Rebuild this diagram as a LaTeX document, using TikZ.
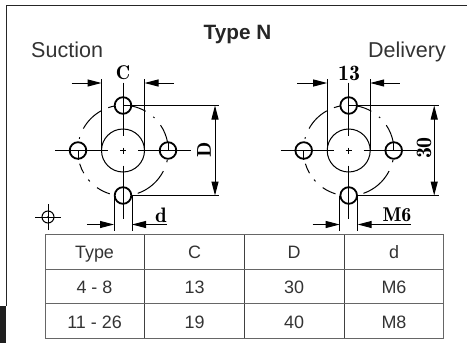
\documentclass[tikz,border=0pt]{standalone}
\usepackage{fontspec}
\newfontfamily\lib{Liberation Sans}
\usetikzlibrary{arrows.meta}
\tikzset{
  lbl/.style={font=\lib\fontsize{#1}{#1}\selectfont,text=black!80,inner sep=0pt,anchor=base},
  dimtxt/.style={font=\fontsize{#1}{#1}\fontseries{b}\selectfont,inner sep=0pt},
  thin line/.style={line width=1bp,black},
  hole/.style={line width=1.8bp,black},
  dimarrow/.style={line width=1bp,black,-{Triangle[length=14bp,width=7bp]}},
  dimboth/.style={line width=1bp,black,{Triangle[length=14bp,width=7bp]}-{Triangle[length=14bp,width=7bp]}},
  cell/.style={draw=black!60,line width=1bp},
  divide/.style={draw=black!75,line width=1bp}
}
% #1 prefix, #2 centre x, #3 D dim x, #4 D line end, #5 d line end
\newcommand{\flange}[5]{
\begin{scope}[shift={(#2,192.5)}]
  \draw[thin line] (0,0) circle[radius=21.5];
  \foreach \a/\b in {79/60,48/46,34/11,-12/-15,-27/-71,-107/-125,-137/-140,-150/-163,165/163,151/119,109/100}
    \draw[thin line] (\a:45.3) arc[start angle=\a,end angle=\b,radius=45.3];
  \foreach \p in {(0,45),(0,-45),(-45,0),(45,0)}
    \draw[hole] \p circle[radius=8.3];
  \draw[thin line] (0,68)--(0,15) (0,3)--(0,-3) (0,-15)--(0,-68);
  \draw[thin line] (-68,0)--(-15,0) (-3,0)--(3,0) (15,0)--(68,0);
  \draw[thin line] (-45,0)--(-45,-9) (45,0)--(45,9);
  \draw[thin line] (-21.5,0)--(-21.5,72) (21.5,0)--(21.5,72);
  \draw[thin line] (0,45)--(#4,45) (9,-45)--(#4,-45);
  \draw[thin line] (-9,-45)--(-9,-80) (9,-45)--(9,-80);
  \coordinate (#1cl) at (-51.5,67.5); \coordinate (#1cr) at (51,67.5);
  \coordinate (#1ca) at (-21.5,67.5); \coordinate (#1cb) at (21.5,67.5);
  \coordinate (#1da) at (#3,45); \coordinate (#1db) at (#3,-45);
  \coordinate (#1la) at (-36.2,-74); \coordinate (#1lb) at (#5,-74);
  \coordinate (#1lc) at (-9,-74); \coordinate (#1ld) at (9,-74);
  \draw[dimarrow] (#1cl)--(#1ca);
  \draw[dimarrow] (#1cr)--(#1cb);
  \draw[dimboth] (#1da)--(#1db);
  \draw[dimarrow] (#1la)--(#1lc);
  \draw[dimarrow] (#1lb)--(#1ld);
\end{scope}}
\begin{document}
\begin{tikzpicture}[x=1bp,y=1bp]
\useasboundingbox (0,0) rectangle (467,343);
\fill[black!88] (0,0) rectangle (6,37);
\draw[line width=1bp,black!85] (6,37)--(6,337)--(467,337);
\node[lbl=21.6,anchor=base west] (suction) at (31,286) {Suction};
\node[lbl=21.6,anchor=base east] (delivery) at (446,286) {Delivery};
\node[lbl=20.8,font=\lib\bfseries\fontsize{20.8}{20.8}\selectfont,text=black!85] (title) at (237.5,303.5) {Type N};
\flange{a}{123}{92}{96}{44}
\flange{b}{348.7}{85.5}{90}{62}
\node[dimtxt=20] (actext) at (123,270) {C};
\node[dimtxt=20,rotate=90] (adtext) at (204,193) {D};
\node[dimtxt=21] (adsm) at (161,128) {d};
\node[dimtxt=22] (bctext) at (349,270) {13};
\node[dimtxt=22,rotate=90] (bdtext) at (424,195) {30};
\node[dimtxt=20] (bdsm) at (397,128) {M6};
% small symbol
\draw[thin line] (48,126) circle[radius=6];
\draw[thin line] (35,126)--(61,126) (48,113)--(48,139);
\fill (48,126) circle[radius=1];
% table
\foreach \x in {144.5,244.5,344} \draw[divide] (\x,4.4)--(\x,109);
\draw[cell] (45,74)--(443.5,74) (45,39.5)--(443.5,39.5);
\draw[cell] (45,4.4) rectangle (443.5,109);
\node[lbl=18] (t11) at (94.5,85) {Type};
\node[lbl=18] (t12) at (194.5,85) {C};
\node[lbl=18] (t13) at (294,85) {D};
\node[lbl=18] (t14) at (394,85) {d};
\node[lbl=18] (t21) at (94.5,50) {4 - 8};
\node[lbl=18] (t22) at (194.5,50) {13};
\node[lbl=18] (t23) at (294,50) {30};
\node[lbl=18] (t24) at (394,50) {M6};
\node[lbl=18] (t31) at (94.5,15) {11 - 26};
\node[lbl=18] (t32) at (194.5,15) {19};
\node[lbl=18] (t33) at (294,15) {40};
\node[lbl=18] (t34) at (394,15) {M8};
\end{tikzpicture}
\end{document}
